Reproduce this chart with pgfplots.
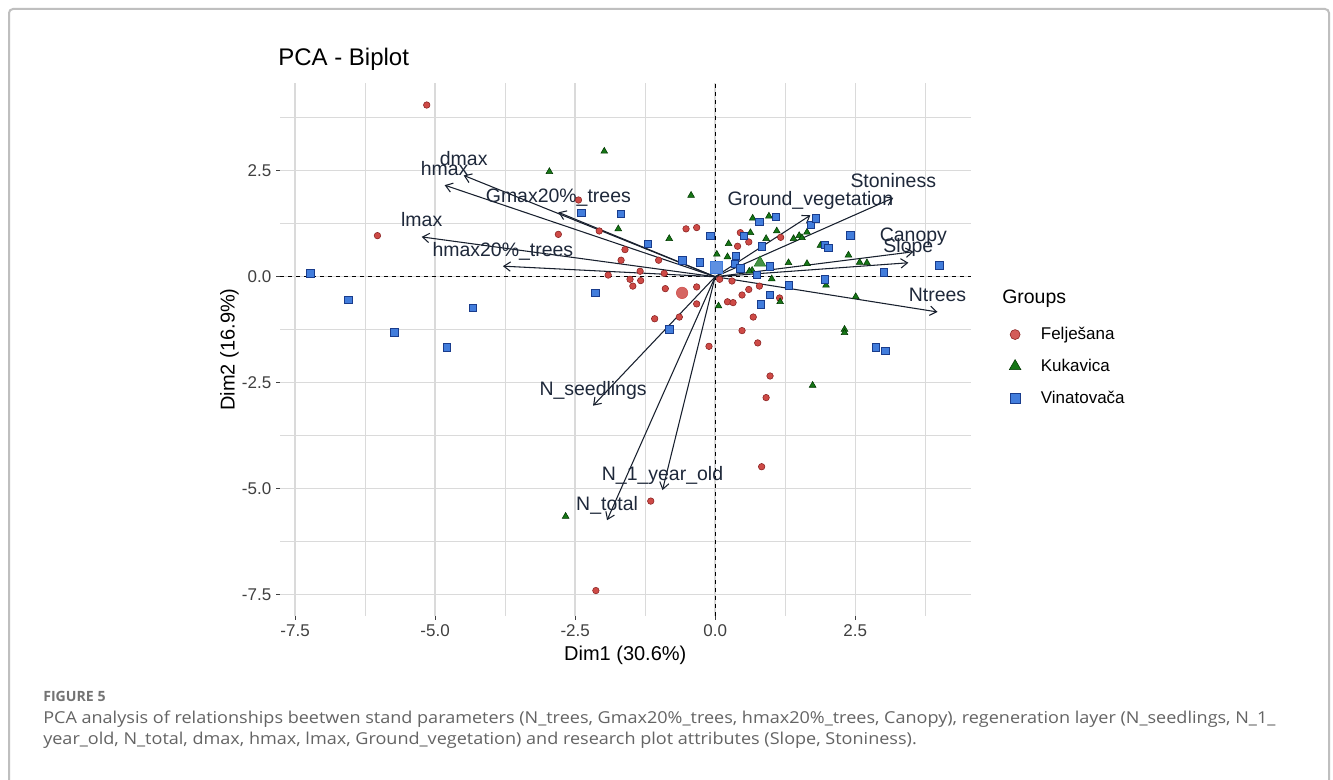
\documentclass[border=0pt]{standalone}
\usepackage{fontspec}
\setmainfont{Liberation Sans}
\newfontfamily\capfont{Open Sans}[FakeStretch=1.1]
\newfontfamily\figfont{Open Sans}
\usepackage{pgfplots}
\pgfplotsset{compat=1.18}
\usetikzlibrary{arrows.meta}
\definecolor{redF}{RGB}{206,74,70}
\definecolor{redE}{RGB}{135,30,30}
\definecolor{grnF}{RGB}{22,118,22}
\definecolor{grnE}{RGB}{0,55,0}
\definecolor{bluF}{RGB}{66,125,220}
\definecolor{bluE}{RGB}{25,60,140}
\definecolor{gridc}{RGB}{218,218,218}
\definecolor{varc}{RGB}{30,40,58}
\definecolor{capc}{RGB}{100,100,100}
\tikzset{varlab/.style={anchor=base, yshift=7.5pt, inner sep=0, text=varc, font=\fontsize{14.6pt}{17pt}\selectfont}}

\pgfplotstableread{
x y
-5.15 4.05
-2.44 1.81
-6.03 0.97
-2.80 1.00
-2.07 1.08
-0.52 1.13
-0.33 1.16
-1.61 0.64
-1.68 0.39
-1.01 0.39
-1.34 0.13
-1.91 0.04
-0.91 0.08
-1.52 -0.06
-1.33 -0.09
-1.47 -0.22
-0.89 -0.28
-0.33 -0.24
-0.33 -0.64
-1.08 -0.99
-0.64 -0.95
0.08 -0.06
0.30 -0.10
0.79 -0.22
0.60 -0.30
0.48 -0.43
0.22 -0.59
0.32 -0.61
1.15 -0.50
0.68 -0.95
0.48 -1.27
0.76 -1.56
-0.11 -1.64
0.98 -2.34
0.91 -2.85
0.83 -4.48
-1.15 -5.29
-2.13 -7.40
0.40 0.72
0.45 1.04
0.60 0.82
1.17 0.93
}\redpts

\pgfplotstableread{
x y
-1.98 2.96
-2.96 2.48
-0.43 1.92
-1.73 1.13
-0.82 0.90
0.06 -0.69
1.16 -0.59
1.01 -0.05
1.98 -0.20
2.51 -0.47
2.31 -1.24
2.31 -1.32
1.74 -2.56
-2.67 -5.65
0.03 0.53
0.22 0.47
0.24 0.78
0.63 1.04
0.67 1.38
0.96 1.43
0.91 0.90
1.10 1.08
1.40 0.90
1.50 0.97
1.55 0.92
1.64 1.05
1.88 0.74
2.38 0.51
2.58 0.34
2.71 0.33
1.64 0.31
1.31 0.33
0.66 0.15
0.61 0.13
}\grnpts

\pgfplotstableread{
x y
-2.39 1.51
-1.68 1.49
-0.09 0.96
-1.20 0.78
-0.59 0.39
-0.28 0.34
-7.23 0.08
-2.14 -0.38
-0.82 -1.24
0.82 -0.65
0.98 -0.43
1.32 -0.20
1.96 -0.06
3.01 0.11
0.37 0.50
0.51 0.96
0.79 1.30
1.08 1.41
0.83 0.72
1.71 1.23
1.80 1.38
2.41 0.98
1.96 0.76
2.02 0.68
0.98 0.25
0.74 0.05
4.00 0.27
2.87 -1.66
3.04 -1.75
-6.55 -0.54
-5.73 -1.31
-4.33 -0.73
-4.79 -1.66
0.35 0.30
0.45 0.20
}\blupts

\begin{document}
\begin{tikzpicture}
\begin{scope}[x=0.75pt,y=0.75pt]
\path[fill=white,use as bounding box] (0,0) rectangle (1333,780);
\draw[black!25,line width=1.5pt,rounded corners=3pt] (9,-10) rectangle (1329,771);
\node[anchor=base west,inner sep=0,font=\fontsize{18pt}{20pt}\selectfont] at (278,714) {PCA - Biplot};
\node[anchor=base west,inner sep=0,font=\fontsize{14.6pt}{17pt}\selectfont] at (1002,476) {Groups};
\node[anchor=base west,inner sep=0,font=\figfont\bfseries\fontsize{10.6pt}{12pt}\selectfont,text=black!55] at (43,78) {FIGURE 5};
\node[anchor=base west,inner sep=0,font=\capfont\fontsize{12.3pt}{14pt}\selectfont,text=capc] at (43,56) {PCA analysis of relationships beetwen stand parameters (N\_trees, Gmax20\%\_trees, hmax20\%\_trees, Canopy), regeneration layer (N\_seedlings, N\_1\_};
\node[anchor=base west,inner sep=0,font=\capfont\fontsize{12.3pt}{14pt}\selectfont,text=capc] at (43,35) {year\_old, N\_total, dmax, hmax, lmax, Ground\_vegetation) and research plot attributes (Slope, Stoniness).};
\end{scope}
\begin{axis}[
  at={(210pt,123pt)}, anchor=south west,
  width=517.9pt, height=399.75pt, scale only axis,
  xmin=-7.77, xmax=4.56, ymin=-8.0, ymax=4.57,
  xtick={-7.5,-5,-2.5,0,2.5}, ytick={-7.5,-5,-2.5,0,2.5},
  xticklabels={-7.5,-5.0,-2.5,0.0,2.5}, yticklabels={-7.5,-5.0,-2.5,0.0,2.5},
  minor xtick={-6.25,-3.75,-1.25,1.25,3.75},
  minor ytick={-6.25,-3.75,-1.25,1.25,3.75},
  grid=both,
  major grid style={gridc,line width=1pt},
  minor grid style={gridc,line width=0.9pt},
  axis line style={draw=none},
  tick align=outside, major tick length=3pt, minor tick length=0pt,
  xtick pos=lower, ytick pos=left,
  tick style={black!75,line width=0.8pt},
  ticklabel style={font=\fontsize{12.75pt}{14pt}\selectfont, text=black!75},
  xlabel={Dim1 (30.6\%)}, ylabel={Dim2 (16.9\%)},
  ylabel shift=-4.5pt,
  label style={font=\fontsize{15pt}{17pt}\selectfont},
  clip=false,
  legend style={at={(1.05,0.552)}, anchor=north west, draw=none, fill=none,
    font=\fontsize{12.75pt}{14pt}\selectfont, row sep=9pt,
    /tikz/every odd column/.append style={column sep=13pt}},
  legend cell align=left,
  varline/.style={varc!80!black, line width=0.8pt, -{Straight Barb[length=5pt,width=7pt]}},
]
\addplot[black, line width=0.9pt, dash pattern=on 3pt off 3pt, forget plot] coordinates {(-7.77,0) (4.56,0)};
\addplot[black, line width=0.9pt, dash pattern=on 3pt off 3pt, forget plot] coordinates {(0,-8.0) (0,4.57)};

\addplot[only marks, mark=*, mark size=2.45pt, draw=redE, fill=redF, line width=0.4pt, forget plot] table {\redpts};
\addplot[only marks, mark=triangle*, mark size=2.9pt, draw=grnE, fill=grnF, line width=0.4pt, forget plot] table {\grnpts};
\addplot[only marks, mark=square*, mark size=2.75pt, draw=bluE, fill=bluF, line width=0.4pt, forget plot] table {\blupts};
% group centres
\addplot[only marks, mark=*, mark size=4.3pt, draw=redF, fill=redF!85!white, forget plot] coordinates {(-0.59,-0.38)};
\addplot[only marks, mark=triangle*, mark size=5pt, draw=grnF, fill=grnF!80!white, forget plot] coordinates {(0.80,0.33)};
\addplot[only marks, mark=square*, mark size=4.4pt, draw=bluF, fill=bluF!85!white, forget plot] coordinates {(0.02,0.22)};

% variables
\addplot[varline, forget plot] coordinates {(0,0) (-4.49,2.39)};
\addplot[varline, forget plot] coordinates {(0,0) (-4.83,2.16)};
\addplot[varline, forget plot] coordinates {(0,0) (-2.80,1.52)};
\addplot[varline, forget plot] coordinates {(0,0) (-5.24,0.94)};
\addplot[varline, forget plot] coordinates {(0,0) (-3.79,0.25)};
\addplot[varline, forget plot] coordinates {(0,0) (1.70,1.45)};
\addplot[varline, forget plot] coordinates {(0,0) (3.18,1.86)};
\addplot[varline, forget plot] coordinates {(0,0) (3.54,0.59)};
\addplot[varline, forget plot] coordinates {(0,0) (3.45,0.33)};
\addplot[varline, forget plot] coordinates {(0,0) (3.97,-0.83)};
\addplot[varline, forget plot] coordinates {(0,0) (-2.18,-3.04)};
\addplot[varline, forget plot] coordinates {(0,0) (-1.93,-5.74)};
\addplot[varline, forget plot] coordinates {(0,0) (-0.94,-5.03)};

\node[varlab] at (axis cs:-4.49,2.39) {dmax};
\node[varlab] at (axis cs:-4.83,2.16) {hmax};
\node[varlab] at (axis cs:-2.80,1.52) {Gmax20\%\_trees};
\node[varlab] at (axis cs:-5.24,0.94) {lmax};
\node[varlab] at (axis cs:-3.79,0.25) {hmax20\%\_trees};
\node[varlab] at (axis cs:1.70,1.45) {Ground\_vegetation};
\node[varlab] at (axis cs:3.18,1.86) {Stoniness};
\node[varlab] at (axis cs:3.54,0.59) {Canopy};
\node[varlab] at (axis cs:3.45,0.33) {Slope};
\node[varlab] at (axis cs:3.97,-0.83) {Ntrees};
\node[varlab] at (axis cs:-2.18,-3.04) {N\_seedlings};
\node[varlab] at (axis cs:-1.93,-5.74) {N\_total};
\node[varlab] at (axis cs:-0.94,-5.03) {N\_1\_year\_old};

\addlegendimage{only marks, mark=*, mark size=3.75pt, draw=redE, fill=redF!90!white}
\addlegendentry{Felješana}
\addlegendimage{only marks, mark=triangle*, mark size=5pt, draw=grnE, fill=grnF}
\addlegendentry{Kukavica}
\addlegendimage{only marks, mark=square*, mark size=3.75pt, draw=bluE, fill=bluF}
\addlegendentry{Vinatovača}
\end{axis}
\end{tikzpicture}
\end{document}
